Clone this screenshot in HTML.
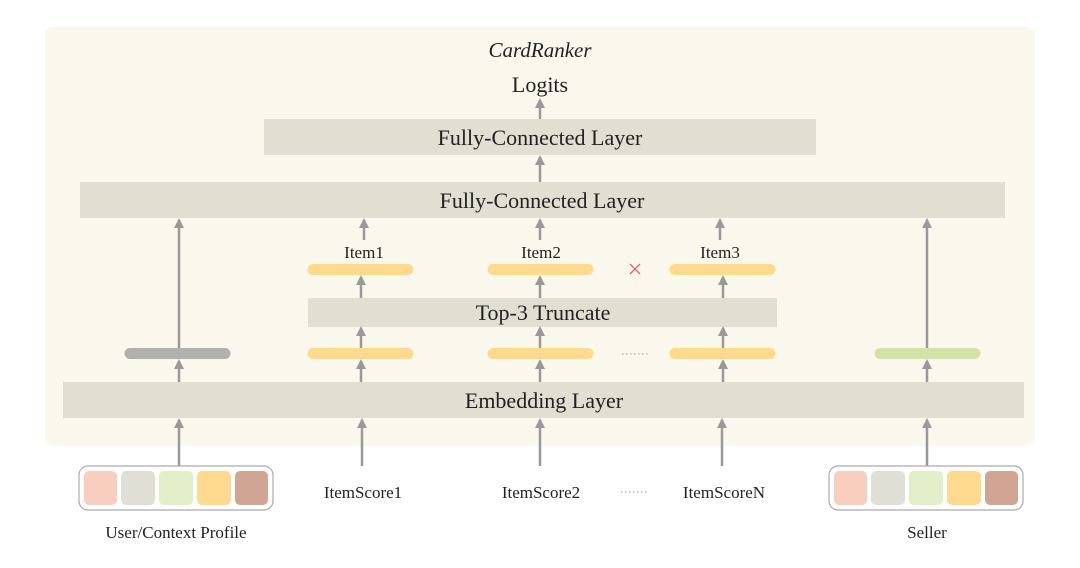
<!DOCTYPE html>
<html><head><meta charset="utf-8"><style>
html,body{margin:0;padding:0;background:#fff;}
svg{display:block;}
text{font-family:"Liberation Serif",serif;fill:#222;}
</style></head><body>
<svg width="1080" height="568" viewBox="0 0 1080 568" xmlns="http://www.w3.org/2000/svg">
<defs>
<marker id="a" markerWidth="10" markerHeight="10" refX="8" refY="5" orient="auto" markerUnits="userSpaceOnUse" viewBox="0 0 10 10">
<path d="M0,0 L10,5 L0,10 Z" fill="#999"/>
</marker>
</defs>
<rect x="45" y="27" width="990" height="419" rx="8" fill="#faf8ec"/>
<text x="540" y="57" font-size="21" font-style="italic" text-anchor="middle">CardRanker</text>
<text x="540" y="92" font-size="22" text-anchor="middle">Logits</text>
<rect x="264" y="119" width="552" height="36" fill="#e0dfd2"/>
<text x="540" y="145" font-size="22" text-anchor="middle">Fully-Connected Layer</text>
<rect x="80" y="182" width="925" height="36" fill="#e0dfd2"/>
<text x="542" y="208" font-size="22" text-anchor="middle">Fully-Connected Layer</text>
<rect x="308" y="298" width="469" height="29" fill="#e0dfd2"/>
<text x="543" y="320" font-size="22" text-anchor="middle">Top-3 Truncate</text>
<rect x="63" y="382" width="961" height="36" fill="#e0dfd2"/>
<text x="544" y="408" font-size="22" text-anchor="middle">Embedding Layer</text>
<g font-size="17" text-anchor="middle">
<text x="364" y="258">Item1</text><text x="541" y="258">Item2</text><text x="720" y="258">Item3</text>
<text x="363" y="498">ItemScore1</text><text x="541" y="498">ItemScore2</text><text x="724" y="498">ItemScoreN</text>
<text x="176" y="538">User/Context Profile</text><text x="927" y="538">Seller</text>
</g>
<g stroke-linecap="round" stroke-width="11">
<line x1="313" y1="269.5" x2="408" y2="269.5" stroke="#fed98e"/>
<line x1="493" y1="269.5" x2="588" y2="269.5" stroke="#fed98e"/>
<line x1="675" y1="269.5" x2="770" y2="269.5" stroke="#fed98e"/>
<line x1="130" y1="353.5" x2="225" y2="353.5" stroke="#b0b0ad"/>
<line x1="313" y1="353.5" x2="408" y2="353.5" stroke="#fed98e"/>
<line x1="493" y1="353.5" x2="588" y2="353.5" stroke="#fed98e"/>
<line x1="675" y1="353.5" x2="770" y2="353.5" stroke="#fed98e"/>
<line x1="880" y1="353.5" x2="975" y2="353.5" stroke="#d5e2a6"/>
</g>
<g stroke="#e06060" stroke-width="1.3"><line x1="630" y1="264" x2="640" y2="274"/><line x1="640" y1="264" x2="630" y2="274"/></g>
<g stroke="#aaa" stroke-width="1.3" stroke-dasharray="1.5 2.5">
<line x1="622" y1="354" x2="650" y2="354"/><line x1="621" y1="492" x2="649" y2="492"/>
</g>
<g stroke="#999" stroke-width="2.5" marker-end="url(#a)">
<line x1="540" y1="119" x2="540" y2="100"/>
<line x1="540" y1="182" x2="540" y2="157"/>
<line x1="364" y1="240" x2="364" y2="220"/>
<line x1="540" y1="240" x2="540" y2="220"/>
<line x1="720" y1="240" x2="720" y2="220"/>
<line x1="179" y1="348" x2="179" y2="220"/>
<line x1="927" y1="348" x2="927" y2="220"/>
<line x1="361" y1="298" x2="361" y2="277"/>
<line x1="540" y1="298" x2="540" y2="277"/>
<line x1="723" y1="298" x2="723" y2="277"/>
<line x1="361" y1="348" x2="361" y2="328"/>
<line x1="540" y1="348" x2="540" y2="328"/>
<line x1="723" y1="348" x2="723" y2="328"/>
<line x1="179" y1="382" x2="179" y2="361"/>
<line x1="361" y1="382" x2="361" y2="361"/>
<line x1="540" y1="382" x2="540" y2="361"/>
<line x1="723" y1="382" x2="723" y2="361"/>
<line x1="927" y1="382" x2="927" y2="361"/>
<line x1="179" y1="466" x2="179" y2="420"/>
<line x1="362" y1="466" x2="362" y2="420"/>
<line x1="540" y1="466" x2="540" y2="420"/>
<line x1="722" y1="466" x2="722" y2="420"/>
<line x1="927" y1="466" x2="927" y2="420"/>
</g>
<g>
<rect x="79" y="466" width="194" height="44" rx="9" fill="#fff" stroke="#aaa" stroke-width="1.2"/>
<rect x="84" y="471" width="33" height="34" rx="5" fill="#f8cfbf"/>
<rect x="121" y="471" width="34" height="34" rx="5" fill="#e0dfd6"/>
<rect x="159" y="471" width="34" height="34" rx="5" fill="#e2eec8"/>
<rect x="197" y="471" width="34" height="34" rx="5" fill="#fed98e"/>
<rect x="235" y="471" width="33" height="34" rx="5" fill="#d0a594"/>
<rect x="829" y="466" width="194" height="44" rx="9" fill="#fff" stroke="#aaa" stroke-width="1.2"/>
<rect x="834" y="471" width="33" height="34" rx="5" fill="#f8cfbf"/>
<rect x="871" y="471" width="34" height="34" rx="5" fill="#e0dfd6"/>
<rect x="909" y="471" width="34" height="34" rx="5" fill="#e2eec8"/>
<rect x="947" y="471" width="34" height="34" rx="5" fill="#fed98e"/>
<rect x="985" y="471" width="33" height="34" rx="5" fill="#d0a594"/>
</g>
</svg>
</body></html>
